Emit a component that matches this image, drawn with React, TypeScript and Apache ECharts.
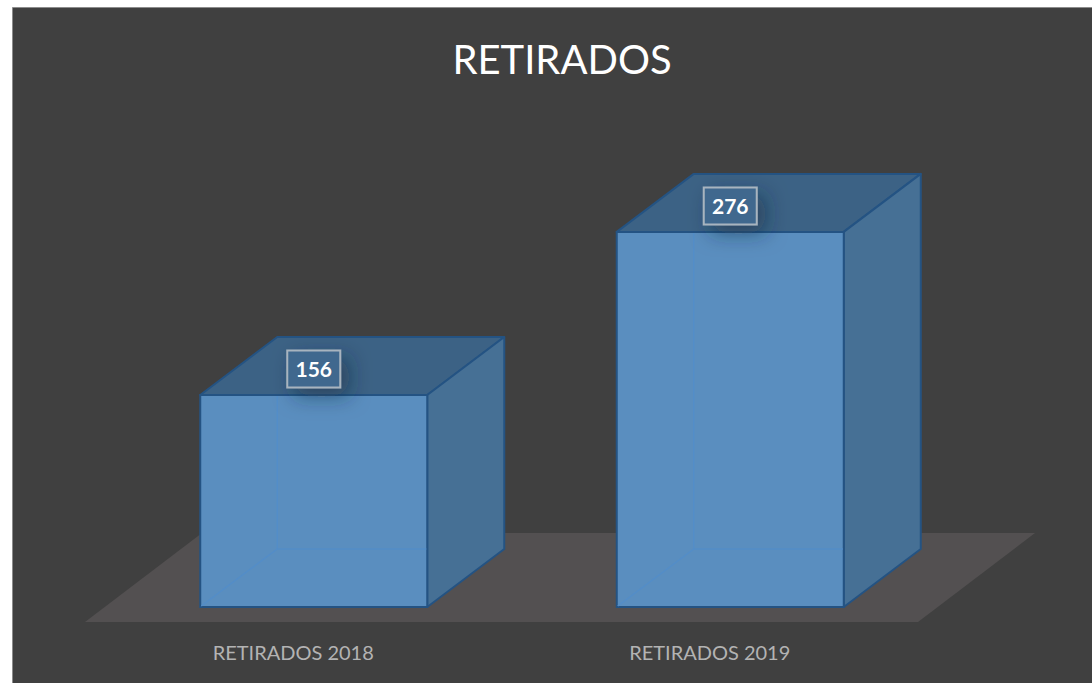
import React, { useEffect, useRef } from "react";
import * as echarts from "echarts";

const categories = ["RETIRADOS 2018", "RETIRADOS 2019"];
const values = [156, 276];
const chartTitle = "RETIRADOS";

const FONT = "Lato, Carlito, 'Open Sans', sans-serif";
const DEPTH_X = 77;
const DEPTH_Y = -58;
const SHIFT_X = 20.5;
const HALF_W = 113.5;

function renderBox(params: any, api: any) {
  const idx = api.value(0);
  const val = api.value(1);
  const top = api.coord([idx, val]);
  const base = api.coord([idx, 0]);
  const cx = top[0] + SHIFT_X;
  const l = cx - HALF_W;
  const r = cx + HALF_W;
  const t = top[1];
  const b = base[1];
  const edge = "#245383";
  const faint = "#538dc8";
  const lx = l + DEPTH_X;
  const rx = r + DEPTH_X;
  const by = b + DEPTH_Y;
  const ty = t + DEPTH_Y;
  const labelY = t - 26;
  return {
    type: "group",
    children: [
      {
        type: "polygon",
        shape: { points: [[l, t], [lx, ty], [rx, ty], [r, t]] },
        style: { fill: "#3c6285", stroke: edge, lineWidth: 2, lineJoin: "round" },
      },
      {
        type: "polygon",
        shape: { points: [[r, t], [rx, ty], [rx, by], [r, b]] },
        style: { fill: "#467095", stroke: edge, lineWidth: 2, lineJoin: "round" },
      },
      {
        type: "rect",
        shape: { x: l, y: t, width: r - l, height: b - t },
        style: { fill: "#5a8ebf", stroke: edge, lineWidth: 2 },
      },
      {
        type: "polyline",
        shape: { points: [[lx, t + 1], [lx, by], [r - 1, by]] },
        style: { fill: "none", stroke: faint, lineWidth: 1.5 },
      },
      {
        type: "line",
        shape: { x1: l + 1, y1: b - 1, x2: lx, y2: by },
        style: { stroke: faint, lineWidth: 1.5 },
      },
      {
        type: "rect",
        shape: { x: cx - 26.5, y: labelY - 18.5, width: 53, height: 37 },
        style: {
          fill: "#41688e",
          stroke: "#a8b4bf",
          lineWidth: 2,
          shadowBlur: 20,
          shadowColor: "rgba(25,40,60,0.5)",
          shadowOffsetX: 8,
          shadowOffsetY: 8,
        },
      },
      {
        type: "text",
        style: {
          x: cx,
          y: labelY,
          text: String(val),
          fill: "#ffffff",
          font: `bold 21px ${FONT}`,
          align: "center",
          verticalAlign: "middle",
        },
      },
    ],
  };
}

export default function App() {
  const ref = useRef<HTMLDivElement>(null);
  useEffect(() => {
    const chart = echarts.init(ref.current!, null, { renderer: "svg" });
    chart.setOption({
      animation: false,
      backgroundColor: "#ffffff",
      title: {
        text: chartTitle,
        left: 557,
        top: 34,
        textAlign: "center",
        textStyle: { color: "#ffffff", fontFamily: FONT, fontWeight: "normal", fontSize: 40 },
      },
      graphic: [
        {
          type: "rect",
          z: -10,
          shape: { x: 12.5, y: 7.5, width: 1090, height: 690 },
          style: { fill: "#404040", stroke: "#8c8c8c", lineWidth: 1 },
        },
        {
          type: "polygon",
          z: -9,
          shape: { points: [[85, 622], [918, 622], [1035, 533], [202, 533]] },
          style: { fill: "#535051" },
        },
      ],
      grid: { left: 85, width: 833, top: 199.3, height: 407.7 },
      xAxis: {
        type: "category",
        data: categories,
        axisLine: { show: false },
        axisTick: { show: false },
        axisLabel: { color: "#b3b3b3", fontFamily: FONT, fontSize: 20, margin: 35 },
      },
      yAxis: { type: "value", min: 0, max: 300, show: false },
      series: [
        {
          type: "custom",
          renderItem: renderBox,
          data: values.map((v, i) => [i, v]),
          encode: { x: 0, y: 1 },
          clip: false,
        },
      ],
    });
    return () => chart.dispose();
  }, []);
  return <div ref={ref} style={{ position: "fixed", left: 0, top: 0, width: 1092, height: 683 }} />;
}
